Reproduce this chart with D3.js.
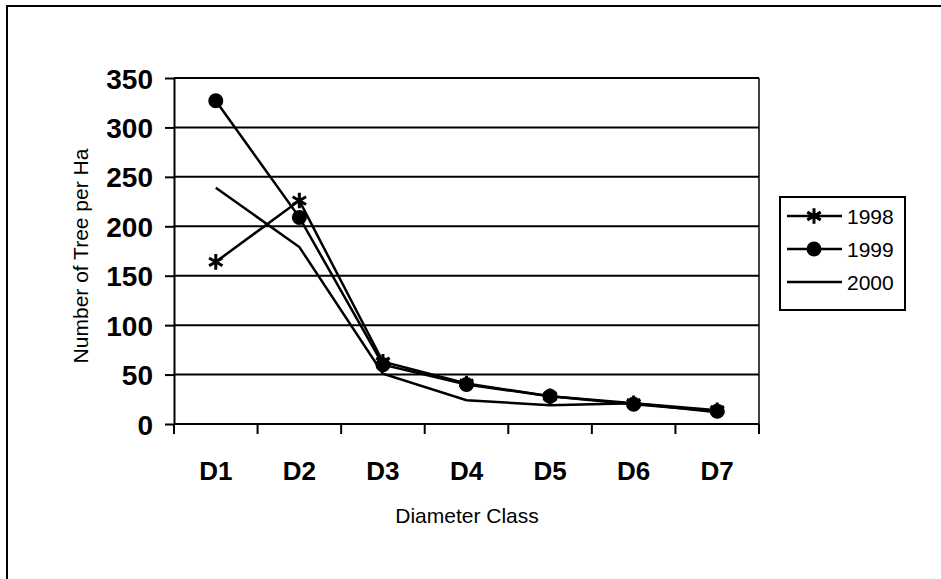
<!DOCTYPE html>
<meta charset="utf-8">
<style>
  body { margin: 0; background: #fff; }
  text { font-family: Arial, "Liberation Sans", sans-serif; fill: #000; }
  .grid line { stroke: #000; stroke-width: 2px; }
  .axis path, .axis line { stroke: #000; stroke-width: 2px; }
  .series { fill: none; stroke: #000; stroke-width: 2.5px; }
</style>
<svg width="941" height="579"></svg>
<script src="https://d3js.org/d3.v7.min.js"></script>
<script>
  // data
  var categories = ["D1", "D2", "D3", "D4", "D5", "D6", "D7"];
  var yTicks = [0, 50, 100, 150, 200, 250, 300, 350];
  var v1998 = [164, 226, 63, 41, 28, 21, 14];
  var v1999 = [327, 209, 60, 40, 28, 20, 13];
  var v2000 = [239, 179, 51, 24, 19, 21, 12];
  var seriesNames = ["1998", "1999", "2000"];
  var seriesMarks = ["star", "circle", "none"];

  var svg = d3.select("svg");

  // outer chart border (runs off the picture)
  svg.append("rect")
    .attr("x", 7).attr("y", 6)
    .attr("width", 960).attr("height", 600)
    .attr("fill", "none").attr("stroke", "#000").attr("stroke-width", 2);

  var plot = { left: 174, top: 78, right: 759, bottom: 424 };

  var x = d3.scaleBand()
    .domain(categories)
    .range([plot.left, plot.right]);
  var y = d3.scaleLinear()
    .domain([0, 350])
    .range([plot.bottom, plot.top]);

  // gridlines
  svg.append("g").attr("class", "grid")
    .selectAll("line")
    .data(yTicks.filter(function(d) { return d > 0; }))
    .enter().append("line")
      .attr("x1", plot.left).attr("x2", plot.right)
      .attr("y1", function(d) { return y(d); })
      .attr("y2", function(d) { return y(d); });

  // plot area right edge
  svg.append("line")
    .attr("x1", plot.right).attr("x2", plot.right)
    .attr("y1", plot.top).attr("y2", plot.bottom)
    .attr("stroke", "#000").attr("stroke-width", 1.5);

  // y axis
  var yAxis = svg.append("g").attr("class", "axis")
    .attr("transform", "translate(" + plot.left + ",0)")
    .call(d3.axisLeft(y).tickValues(yTicks).tickSize(9).tickSizeOuter(0).tickPadding(12));
  yAxis.selectAll("text")
    .style("font-size", "28px").style("font-weight", "bold")
    .attr("dy", "0.36em");

  // x axis: ticks at band edges
  var xAxis = svg.append("g").attr("class", "axis")
    .attr("transform", "translate(0," + plot.bottom + ")");
  xAxis.append("line")
    .attr("x1", plot.left).attr("x2", plot.right);
  xAxis.selectAll(".tk")
    .data(categories.concat(["end"]))
    .enter().append("line")
      .attr("class", "tk")
      .attr("x1", function(d, i) { return plot.left + i * x.step(); })
      .attr("x2", function(d, i) { return plot.left + i * x.step(); })
      .attr("y1", 0).attr("y2", 10);
  xAxis.selectAll("text")
    .data(categories)
    .enter().append("text")
      .attr("x", function(d) { return x(d) + x.bandwidth() / 2; })
      .attr("y", 56)
      .attr("text-anchor", "middle")
      .style("font-size", "26px").style("font-weight", "bold")
      .text(function(d) { return d; });

  // axis titles
  svg.append("text")
    .attr("x", 467)
    .attr("y", 523)
    .attr("text-anchor", "middle")
    .style("font-size", "21px")
    .text("Diameter Class");
  svg.append("text")
    .attr("transform", "translate(88,256) rotate(-90)")
    .attr("text-anchor", "middle")
    .style("font-size", "21px")
    .text("Number of Tree per Ha");

  // lines
  var cx = function(i) { return x(categories[i]) + x.bandwidth() / 2; };
  var line = d3.line()
    .x(function(d, i) { return cx(i); })
    .y(function(d) { return y(d); });
  var allSeries = [v1998, v1999, v2000];

  var star = d3.symbol().type(d3.symbolAsterisk).size(170);

  function drawMark(g, kind, px, py) {
    if (kind === "star") {
      g.append("path")
        .attr("d", star())
        .attr("transform", "translate(" + px + "," + py + ")")
        .attr("fill", "none").attr("stroke", "#000").attr("stroke-width", 3);
    } else if (kind === "circle") {
      g.append("circle")
        .attr("cx", px).attr("cy", py).attr("r", 7.5)
        .attr("fill", "#000");
    }
  }

  allSeries.forEach(function(vals, s) {
    var g = svg.append("g");
    g.append("path").attr("class", "series").attr("d", line(vals));
    vals.forEach(function(v, i) { drawMark(g, seriesMarks[s], cx(i), y(v)); });
  });

  // legend
  var legend = svg.append("g");
  legend.append("rect")
    .attr("x", 780).attr("y", 197)
    .attr("width", 125).attr("height", 113)
    .attr("fill", "#fff").attr("stroke", "#000").attr("stroke-width", 2);
  seriesNames.forEach(function(name, i) {
    var ly = 216 + i * 33;
    legend.append("line")
      .attr("x1", 787).attr("x2", 842)
      .attr("y1", ly).attr("y2", ly)
      .attr("stroke", "#000").attr("stroke-width", 2.5);
    drawMark(legend, seriesMarks[i], 814, ly);
    legend.append("text")
      .attr("x", 847).attr("y", ly)
      .attr("dy", "0.36em")
      .style("font-size", "21px")
      .text(name);
  });
</script>
